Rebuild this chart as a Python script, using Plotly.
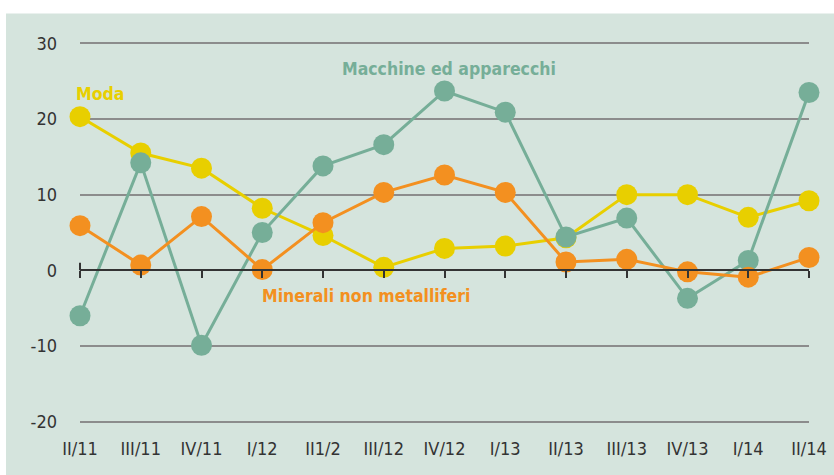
import plotly.graph_objects as go

quarters = ["II/11", "III/11", "IV/11", "I/12", "II1/2", "III/12", "IV/12",
            "I/13", "II/13", "III/13", "IV/13", "I/14", "II/14"]
moda = [20.3, 15.5, 13.5, 8.2, 4.6, 0.4, 2.9, 3.2, 4.3, 10.0, 10.0, 7.0, 9.2]
macchine = [-6.0, 14.2, -9.9, 5.0, 13.8, 16.6, 23.7, 20.9, 4.4, 6.9, -3.7, 1.3, 23.5]
minerali = [5.9, 0.7, 7.1, 0.1, 6.3, 10.3, 12.6, 10.3, 1.1, 1.45, -0.2, -0.9, 1.7]
y_ticks = [-20, -10, 0, 10, 20, 30]
y_labels = ["-20", "-10", "0", "10", "20", "30"]

YELLOW = "#E8CF00"
GREEN = "#76AE98"
ORANGE = "#F39020"
PANEL = "#D5E4DD"
FONT = "DejaVu Sans Condensed, Roboto Condensed, Liberation Sans Narrow, Roboto, sans-serif"

Y_LO, Y_HI = -20.3, 30.3
zero_pos = (0 - Y_LO) / (Y_HI - Y_LO)

fig = go.Figure()
for name, vals, col in [("Moda", moda, YELLOW),
                        ("Macchine ed apparecchi", macchine, GREEN),
                        ("Minerali non metalliferi", minerali, ORANGE)]:
    fig.add_trace(go.Scatter(
        x=list(range(len(quarters))), y=vals, name=name, mode="lines+markers",
        line=dict(color=col, width=3),
        marker=dict(color=col, size=21),
        cliponaxis=False, showlegend=False))

fig.update_layout(
    width=834, height=475,
    margin=dict(l=80, r=25, t=41, b=51),
    paper_bgcolor="white",
    plot_bgcolor="rgba(0,0,0,0)",
    font=dict(family=FONT, size=18, color="#333333"),
    xaxis=dict(
        range=[0, 12], tickvals=list(range(len(quarters))), ticktext=quarters,
        showgrid=False, zeroline=False, showline=False, ticks="",
        automargin=False,
        ticklabelstandoff=12, tickfont=dict(size=18, color="#333333")),
    xaxis2=dict(
        overlaying="x", anchor="free", position=zero_pos, range=[0, 12],
        tickvals=list(range(len(quarters))), showticklabels=False,
        ticks="outside", ticklen=7, tickwidth=2, tickcolor="#333333",
        showline=True, linecolor="#333333", linewidth=2, automargin=False,
        showgrid=False, zeroline=False),
    yaxis=dict(
        range=[Y_LO, Y_HI], tickvals=y_ticks, ticktext=y_labels, showgrid=True,
        gridcolor="#8C8C8C", gridwidth=2, zeroline=False, automargin=False,
        ticklabelstandoff=22, tickfont=dict(size=18, color="#333333")),
    shapes=[
        dict(type="rect", xref="paper", yref="paper", x0=-0.1015, x1=1.1,
             y0=-0.3, y1=1.072, fillcolor=PANEL, line=dict(width=0),
             layer="below"),
        dict(type="line", xref="paper", yref="y", x0=0, x1=0, y0=0, y1=1,
             line=dict(color="#333333", width=2)),
    ],
    annotations=[
        dict(text="<b>Moda</b>", x=-0.008, y=23.3, xref="paper", yref="y",
             xanchor="left", yanchor="middle", showarrow=False,
             font=dict(color=YELLOW, size=17.5)),
        dict(text="<b>Macchine ed apparecchi</b>", x=4.28, y=26.6, xref="x",
             yref="y", xanchor="left", yanchor="middle", showarrow=False,
             font=dict(color=GREEN, size=17.5)),
        dict(text="<b>Minerali non metalliferi</b>", x=2.96, y=-3.4,
             xref="x", yref="y", xanchor="left", yanchor="middle",
             showarrow=False, font=dict(color=ORANGE, size=17.5)),
    ],
)
fig.add_trace(go.Scatter(x=[], y=[], xaxis="x2", showlegend=False,
                         hoverinfo="skip"))

fig.write_html("out.html", config={"displayModeBar": False},
               post_script="document.body.style.margin='0';document.body.style.overflow='hidden';")
